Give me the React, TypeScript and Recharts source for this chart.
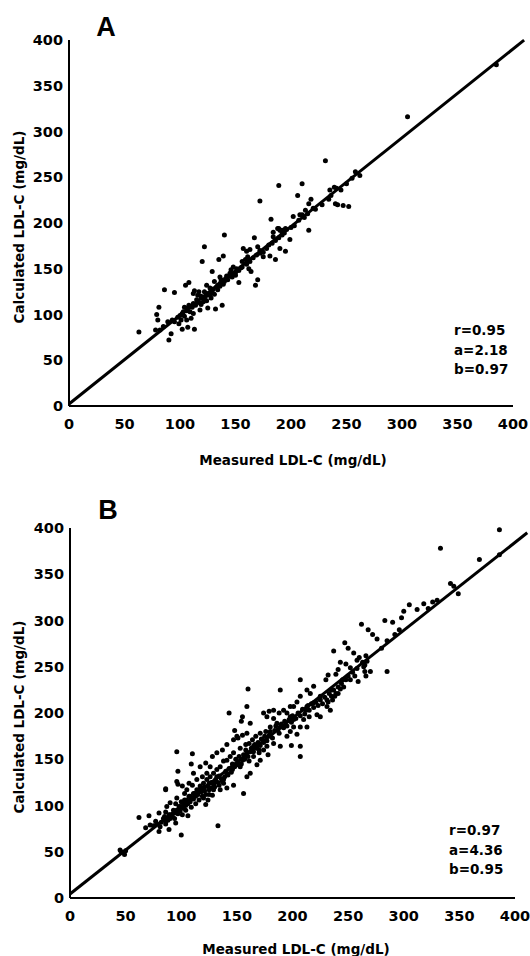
import React from "react";
import {
  ScatterChart,
  Scatter,
  XAxis,
  YAxis,
  ReferenceLine,
  Customized,
} from "recharts";

// Panel A: measured vs calculated LDL-C
const measuredA = [
  231, 189, 210, 206, 218, 216, 234, 241, 240, 242, 172, 182, 210, 220, 216,
  190, 188, 192, 184, 199, 195, 190, 186, 181, 175, 172, 167, 140, 122, 139,
  135, 120, 157, 163, 161, 159, 156, 162, 164, 170, 168, 153, 146, 150, 142,
  140, 129, 131, 137, 134, 124, 127, 124, 117, 119, 115, 112, 108, 105, 113,
  116, 121, 128, 132, 138, 125, 118, 112, 110, 107, 104, 102, 106, 101, 99,
  95, 93, 89, 85, 82, 80, 79, 81, 86, 95, 63, 90, 92, 102, 107, 113, 78, 98,
  103, 108, 112, 116, 120, 123, 126, 128, 130, 133, 136, 139, 143, 147, 150,
  153, 156, 160, 163, 166, 169, 172, 175, 178, 180, 183, 186, 189, 192, 194,
  196, 200, 203, 207, 212, 215, 222, 228, 236, 245, 250, 255, 258, 262, 247,
  252, 305, 385, 184, 189, 192, 195, 202, 208, 213, 235, 239, 170, 160, 148,
  145, 136, 133, 129, 122, 100, 104, 106, 109, 111, 114, 117, 119, 122, 124,
  127, 129, 131, 134, 136, 141, 145, 149, 151, 155,
];
const calculatedA = [
  268, 241, 243, 230, 226, 221, 226, 238, 221, 220, 224, 204, 209, 216, 192,
  192, 194, 190, 185, 182, 169, 172, 160, 164, 163, 170, 184, 187, 174, 164,
  160, 158, 172, 171, 163, 160, 158, 150, 147, 138, 132, 135, 149, 143, 142,
  136, 147, 136, 138, 132, 132, 129, 123, 125, 120, 116, 123, 135, 132, 126,
  121, 114, 118, 106, 110, 107, 105, 101, 96, 107, 108, 101, 94, 94, 90, 92,
  94, 92, 87, 83, 94, 100, 108, 127, 124, 81, 72, 79, 84, 86, 84, 83, 97, 103,
  110, 112, 114, 118, 120, 122, 126, 128, 130, 134, 133, 138, 141, 146, 148,
  152, 155, 158, 162, 165, 167, 168, 172, 176, 178, 181, 184, 187, 189, 193,
  195, 197, 203, 206, 210, 215, 220, 230, 236, 243, 249, 256, 252, 219, 218,
  316, 373, 190, 194, 192, 194, 207, 209, 214, 236, 239, 174, 169, 152, 145,
  141, 130, 127, 125, 99, 98, 104, 103, 108, 110, 113, 111, 117, 115, 121,
  124, 122, 127, 131, 139, 142, 145, 150, 151,
];

// Panel B
const measuredB = [
  386, 333, 368, 342, 345, 349, 386, 300, 305, 312, 318, 322, 326, 330, 283,
  290, 298, 268, 272, 276, 262, 266, 270, 285, 255, 260, 250, 265, 267, 247,
  237, 243, 248, 241, 239, 245, 252, 258, 259, 232, 230, 235, 243, 207, 189,
  160, 159, 143, 155, 154, 162, 148, 151, 96, 110, 109, 97, 96, 97, 86, 156,
  207, 207, 199, 204, 195, 189, 178, 183, 207, 213, 219, 216, 225, 231, 234,
  222, 225, 236, 232, 241, 238, 219, 214, 212, 215, 210, 213, 207, 201, 198,
  195, 201, 204, 198, 192, 188, 183, 179, 174, 177, 183, 186, 189, 180, 176,
  171, 167, 164, 173, 180, 188, 198, 201, 141, 144, 138, 135, 132, 129, 126,
  123, 120, 117, 114, 111, 108, 105, 102, 99, 147, 153, 158, 161, 165, 170,
  159, 155, 150, 146, 141, 138, 134, 129, 125, 120, 153, 161, 165, 170, 174,
  177, 132, 126, 123, 119, 114, 110, 105, 101, 103, 107, 111, 117, 122, 128,
  132, 137, 141, 147, 150, 155, 159, 96, 90, 87, 93, 171, 168, 162, 159, 86,
  62, 71, 80, 86, 89, 94, 101, 106, 104, 98, 95, 103, 107, 112, 116, 121, 125,
  131, 138, 119, 124, 128, 135, 141, 147, 122, 113, 133, 100, 80, 89, 81, 72,
  77, 86, 95, 46, 45, 49, 50, 85, 75, 68, 90, 78, 264, 265, 266, 263, 280, 285,
  292, 296, 100, 102, 104, 106, 108, 109, 111, 113, 115, 116, 118, 119, 121,
  122, 124, 125, 127, 127, 129, 130, 131, 133, 134, 136, 137, 139, 140, 142,
  143, 145, 146, 148, 149, 151, 152, 154, 156, 157, 158, 160, 162, 163, 165,
  166, 168, 169, 171, 172, 174, 175, 177, 179, 180, 182, 184, 185, 187, 190,
  192, 193, 195, 197, 199, 200, 203, 205, 207, 209, 211, 213, 215, 217, 219,
  221, 223, 225, 227, 229, 231, 233, 235, 237, 239, 241, 244, 246, 248, 250,
  252, 254, 256, 258, 82, 84, 86, 88, 90, 92, 94, 96, 97, 99,
];
const calculatedB = [
  398, 378, 366, 340, 337, 329, 371, 310, 317, 312, 318, 313, 320, 322, 300,
  298, 303, 290, 285, 280, 296, 262, 245, 245, 265, 260, 270, 252, 256, 276,
  267, 255, 253, 247, 242, 236, 249, 257, 234, 241, 236, 225, 226, 236, 225,
  226, 207, 200, 196, 191, 189, 181, 173, 158, 156, 145, 137, 126, 123, 117,
  113, 153, 164, 165, 177, 175, 164, 155, 167, 218, 225, 229, 221, 218, 207,
  203, 198, 196, 214, 212, 221, 218, 211, 208, 203, 196, 193, 185, 185, 193,
  196, 200, 207, 212, 207, 203, 200, 203, 202, 200, 196, 194, 189, 185, 185,
  180, 178, 175, 171, 171, 175, 178, 180, 185, 149, 153, 148, 142, 139, 135,
  131, 128, 124, 121, 117, 113, 110, 106, 103, 99, 157, 162, 166, 167, 164,
  160, 157, 149, 144, 139, 135, 128, 122, 117, 112, 108, 142, 148, 153, 157,
  160, 164, 131, 142, 135, 131, 128, 122, 117, 121, 113, 124, 135, 142, 146,
  153, 157, 160, 166, 171, 175, 176, 178, 108, 103, 99, 95, 149, 144, 135, 131,
  118, 87, 89, 92, 93, 90, 92, 90, 89, 95, 99, 102, 106, 110, 113, 117, 120,
  124, 126, 124, 110, 106, 111, 117, 119, 122, 101, 102, 78, 68, 72, 74, 77,
  79, 83, 83, 81, 50, 52, 47, 51, 88, 78, 76, 86, 80, 250, 245, 240, 255, 270,
  278, 285, 290, 104, 97, 100, 102, 104, 98, 107, 110, 112, 106, 115, 119, 116,
  112, 121, 117, 119, 125, 123, 120, 128, 125, 132, 129, 126, 131, 137, 133,
  140, 136, 145, 142, 150, 147, 153, 145, 155, 150, 160, 153, 158, 162, 158,
  166, 162, 168, 165, 172, 168, 175, 170, 176, 180, 173, 181, 186, 182, 188,
  184, 191, 186, 193, 190, 197, 194, 200, 197, 204, 199, 207, 203, 210, 206,
  212, 208, 214, 210, 217, 214, 221, 218, 225, 221, 228, 232, 228, 236, 240,
  236, 244, 240, 248, 82, 86, 80, 84, 90, 88, 86, 95, 91, 94,
];

const ticks = [0, 50, 100, 150, 200, 250, 300, 350, 400];

const statsA = ["r=0.95", "a=2.18", "b=0.97"];
const statsB = ["r=0.97", "a=4.36", "b=0.95"];

const FONT = "'DejaVu Sans', Arial, sans-serif";

const Dot = (props: any) => (
  <circle cx={props.cx} cy={props.cy} r={2.5} fill="#000" />
);

type PanelProps = {
  letter: string;
  xs: number[];
  ys: number[];
  stats: string[];
  intercept: number;
  slope: number;
  lineEnd: number;
  top: number;
  plotTop: number;
  plotBottom: number;
  plotLeft: number;
  plotRight: number;
  letterPos: [number, number];
  statsPos: [number, number];
  xLabelPos: [number, number];
  yLabelPos: [number, number];
};

const Panel = (p: PanelProps) => {
  const data = p.xs.map((x, i) => ({ x, y: p.ys[i] }));
  const height = 478;
  const axisH = 30;
  const tickStyle = {
    fill: "#000",
    fontSize: 14.5,
    fontWeight: "bold",
    fontFamily: FONT,
  };

  const overlay = () => (
    <g fontFamily={FONT} fill="#000">
      <text
        x={p.letterPos[0]}
        y={p.letterPos[1]}
        fontSize={27}
        fontWeight="bold"
        fontFamily="'Liberation Sans', Arial, sans-serif"
        textAnchor="middle"
        dominantBaseline="central"
      >
        {p.letter}
      </text>
      {p.stats.map((s, i) => (
        <text
          key={s}
          x={p.statsPos[0]}
          y={p.statsPos[1] + i * 19.5}
          fontSize={13.5}
          fontWeight="bold"
          dominantBaseline="central"
        >
          {s}
        </text>
      ))}
      <text
        x={p.xLabelPos[0]}
        y={p.xLabelPos[1]}
        fontSize={13.5}
        fontWeight="bold"
        textAnchor="middle"
        dominantBaseline="central"
      >
        Measured LDL-C (mg/dL)
      </text>
      <text
        x={p.yLabelPos[0]}
        y={p.yLabelPos[1]}
        fontSize={13.5}
        fontWeight="bold"
        textAnchor="middle"
        dominantBaseline="central"
        transform={`rotate(-90 ${p.yLabelPos[0]} ${p.yLabelPos[1]})`}
      >
        Calculated LDL-C (mg/dL)
      </text>
    </g>
  );

  return (
    <div style={{ position: "absolute", left: 0, top: p.top, width: 530, height }}>
      <ScatterChart
        width={530}
        height={height}
        margin={{
          top: p.plotTop,
          right: 530 - p.plotRight,
          bottom: height - p.plotBottom - axisH,
          left: 0,
        }}
      >
        <XAxis
          type="number"
          dataKey="x"
          domain={[0, 400]}
          ticks={ticks}
          height={axisH}
          tickLine={false}
          tickMargin={7}
          axisLine={{ stroke: "#000", strokeWidth: 2 }}
          tick={tickStyle}
          interval={0}
        />
        <YAxis
          type="number"
          dataKey="y"
          domain={[0, 400]}
          ticks={ticks}
          width={p.plotLeft}
          tickLine={false}
          tickMargin={0}
          axisLine={{ stroke: "#000", strokeWidth: 2 }}
          tick={tickStyle}
          interval={0}
        />
        <ReferenceLine
          segment={[
            { x: 0, y: p.intercept },
            { x: p.lineEnd, y: p.intercept + p.slope * p.lineEnd },
          ]}
          stroke="#000"
          strokeWidth={3}
          ifOverflow="visible"
        />
        <Scatter data={data} shape={Dot} isAnimationActive={false} />
        <Customized component={overlay} />
      </ScatterChart>
    </div>
  );
};

export default function App() {
  return (
    <div
      style={{
        position: "absolute",
        left: 0,
        top: 0,
        width: 530,
        height: 956,
        background: "#fff",
      }}
    >
      <Panel
        letter="A"
        xs={measuredA}
        ys={calculatedA}
        stats={statsA}
        intercept={2.18}
        slope={0.97}
        lineEnd={410}
        top={0}
        plotTop={40}
        plotBottom={406}
        plotLeft={69}
        plotRight={513}
        letterPos={[106, 27]}
        statsPos={[454, 330]}
        xLabelPos={[293, 460]}
        yLabelPos={[19, 227]}
      />
      <Panel
        letter="B"
        xs={measuredB}
        ys={calculatedB}
        stats={statsB}
        intercept={4.36}
        slope={0.95}
        lineEnd={411}
        top={478}
        plotTop={50}
        plotBottom={420}
        plotLeft={70}
        plotRight={515}
        letterPos={[108, 32]}
        statsPos={[449, 352]}
        xLabelPos={[296, 471]}
        yLabelPos={[19, 239]}
      />
    </div>
  );
}
